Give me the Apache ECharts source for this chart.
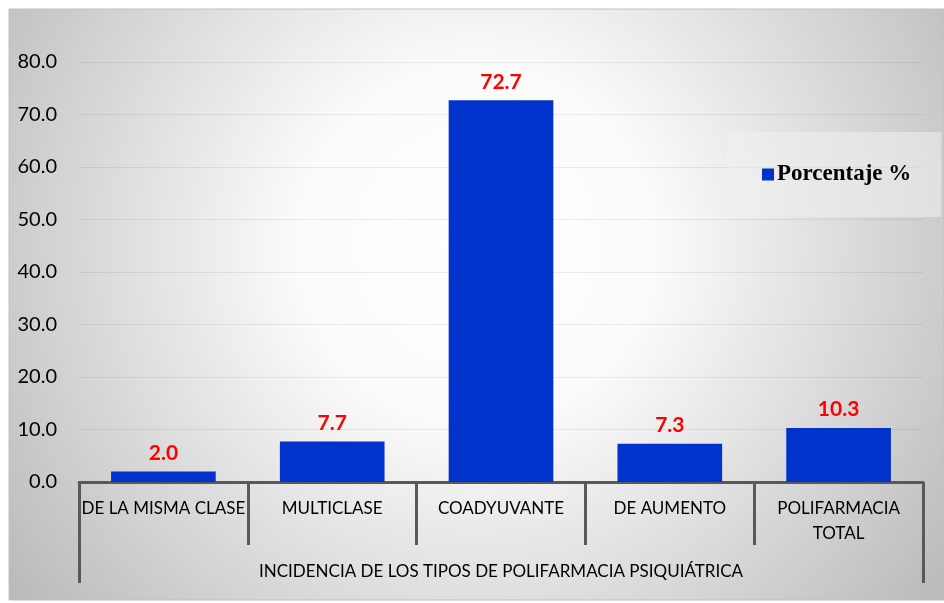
<!DOCTYPE html>
<html>
<head>
<meta charset="utf-8">
<script src="https://cdn.jsdelivr.net/npm/echarts@6/dist/echarts.min.js"></script>
<style>html,body{margin:0;padding:0;background:#fff;}#c{width:944px;height:603px;}</style>
</head>
<body>
<div id="c"></div>
<script>
var categories = ['DE LA MISMA CLASE', 'MULTICLASE', 'COADYUVANTE', 'DE AUMENTO', 'POLIFARMACIA\nTOTAL'];
var groupLabel = ['INCIDENCIA DE LOS TIPOS DE POLIFARMACIA PSIQUIÁTRICA'];
var seriesName = 'Porcentaje %';
var values = [2.0, 7.7, 72.7, 7.3, 10.3];
var yMin = 0, yMax = 80, yStep = 10;

var chart = echarts.init(document.getElementById('c'));
var font = 'Lato';
chart.setOption({
  animation: false,
  graphic: [{
    type: 'rect', z: -10, silent: true,
    shape: { x: 9, y: 9, width: 935, height: 591 },
    style: {
      fill: { type: 'radial', x: 0.5, y: 0.4, r: 1, colorStops: [
        { offset: 0, color: '#ffffff' }, { offset: 0.3, color: '#fbfbfb' }, { offset: 1, color: '#b8b8b8' }] },
      stroke: '#c0c0c0', lineWidth: 1
    }
  }],
  legend: {
    data: [seriesName],
    left: 727, top: 132,
    padding: [31, 30, 31, 35],
    backgroundColor: 'rgba(240,240,240,0.55)',
    itemWidth: 12, itemHeight: 12, itemGap: 0,
    icon: 'rect',
    textStyle: { fontFamily: 'Liberation Serif', fontWeight: 'bold', fontSize: 23, color: '#000', padding: [0, 0, 0, -2] }
  },
  grid: { left: 79, right: 21, top: 62, bottom: 121, containLabel: false },
  xAxis: [{
    type: 'category', data: categories, position: 'bottom',
    axisLine: { show: true, lineStyle: { color: '#595959', width: 3 } },
    axisTick: { show: true, length: 63, interval: 0, lineStyle: { color: '#595959', width: 3 } },
    axisLabel: { interval: 0, margin: 14, fontFamily: font, fontSize: 17, color: '#000', lineHeight: 25 }
  }, {
    type: 'category', data: groupLabel, position: 'bottom',
    axisLine: { show: false },
    axisTick: { show: true, length: 101, interval: 0, lineStyle: { color: '#595959', width: 3 } },
    axisLabel: { interval: 0, margin: 81, fontFamily: font, fontSize: 17, color: '#000' }
  }],
  yAxis: {
    type: 'value', min: yMin, max: yMax, interval: yStep,
    axisLine: { show: false }, axisTick: { show: false },
    splitLine: { show: true, lineStyle: { color: 'rgba(0,0,0,0.07)', width: 1 } },
    axisLabel: { formatter: function (v) { return v.toFixed(1); }, margin: 22, fontFamily: font, fontSize: 20, color: '#000' }
  },
  series: [{
    name: seriesName, type: 'bar', data: values, xAxisIndex: 0,
    barCategoryGap: '38%',
    itemStyle: { color: '#0033CC' },
    label: { show: true, position: 'top', distance: 8, formatter: function (p) { return p.value.toFixed(1); },
      fontFamily: font, fontWeight: 'bold', fontSize: 21, color: '#FF0000' }
  }]
});
</script>
</body>
</html>
